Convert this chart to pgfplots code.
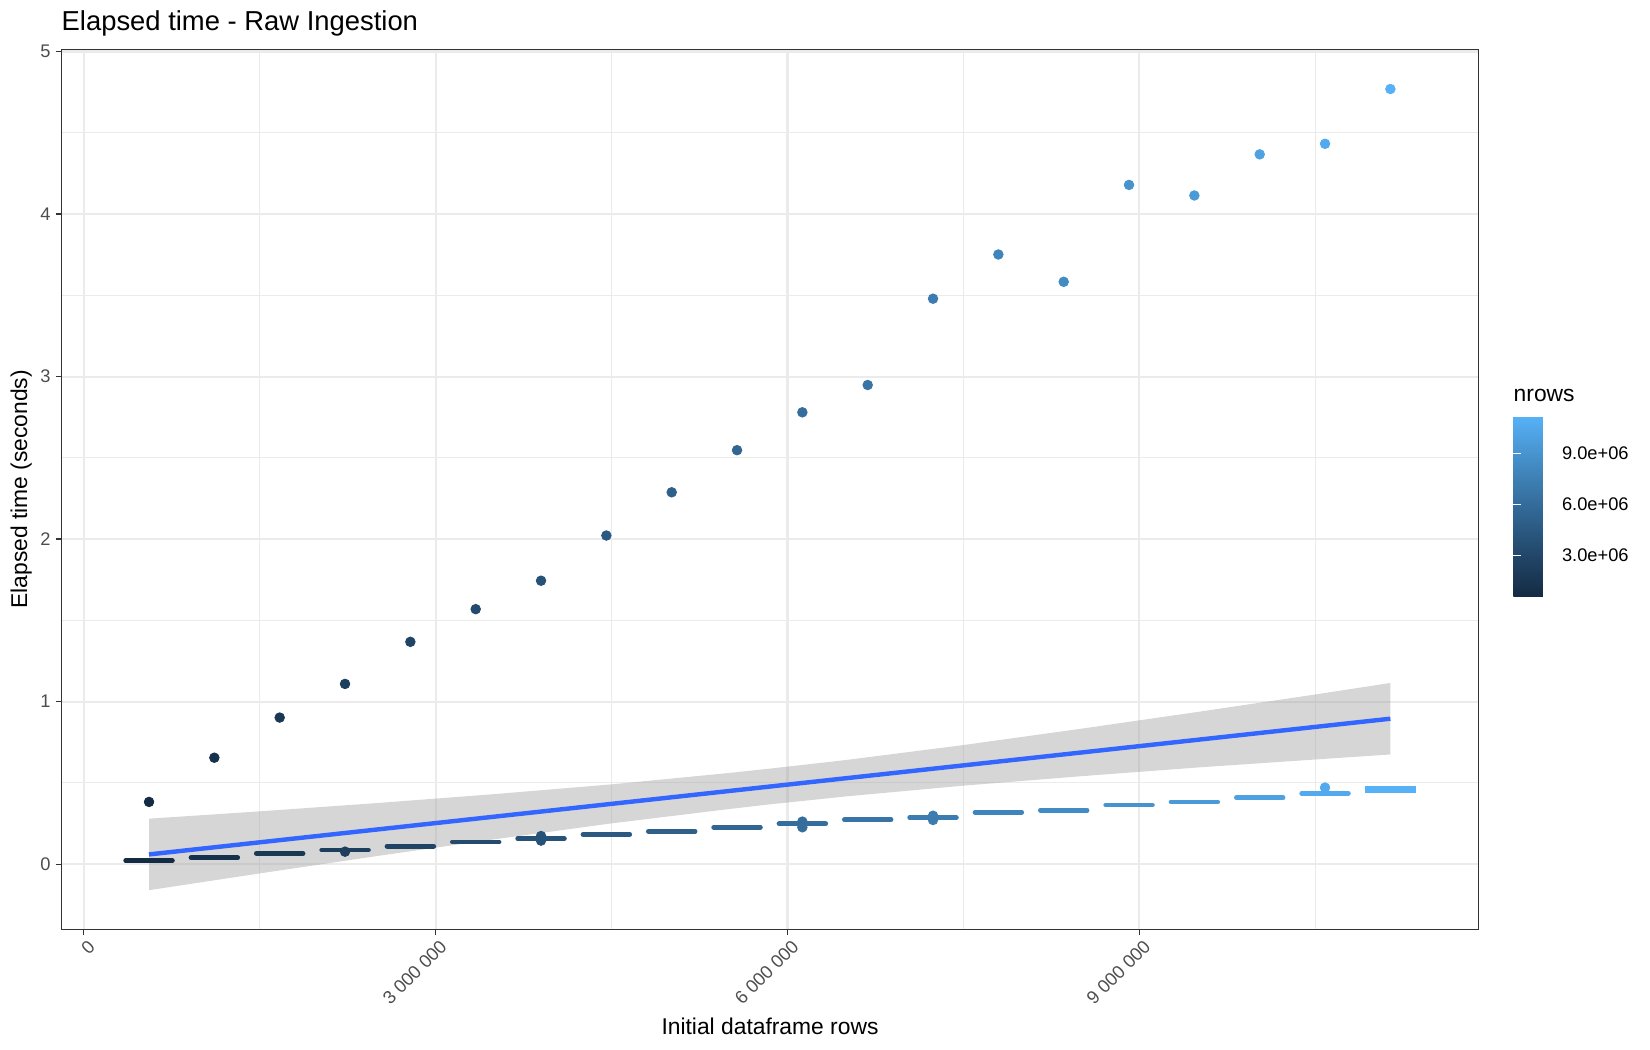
\documentclass[border=0pt]{standalone}
\usepackage{fontspec}
\setmainfont{Liberation Sans}
\usepackage{pgfplots}
\usepackage{pgfplotstable}
\pgfplotsset{compat=1.18}
\definecolor{grey92}{HTML}{EBEBEB}
\definecolor{grey20}{HTML}{333333}
\definecolor{grey30}{HTML}{4D4D4D}
\definecolor{smoothblue}{HTML}{3366FF}
\definecolor{bandgrey}{HTML}{999999}
\pgfplotsset{
  colormap={ggblue}{rgb255(0cm)=(19,43,67); rgb255(1cm)=(35,73,108); rgb255(2cm)=(51,106,152); rgb255(3cm)=(68,141,198); rgb255(4cm)=(86,177,247)}
}
\pgfplotstableread{
x y
557000 0.383
1114000 0.655
1671000 0.902
2228000 1.109
2785000 1.368
3342000 1.569
3899000 1.744
4456000 2.022
5013000 2.288
5570000 2.547
6127000 2.780
6684000 2.948
7241000 3.479
7798000 3.751
8355000 3.583
8912000 4.179
9469000 4.114
10026000 4.367
10583000 4.432
11140000 4.769
}\toppts
\pgfplotstableread{
x y
557000 0.021
1114000 0.040
1671000 0.066
2228000 0.087
2785000 0.111
3342000 0.137
3899000 0.157
4456000 0.183
5013000 0.202
5570000 0.228
6127000 0.249
6684000 0.273
7241000 0.286
7798000 0.319
8355000 0.332
8912000 0.364
9469000 0.383
10026000 0.409
10583000 0.436
}\dashes
\pgfplotstableread{
x y
11140000 0.457
}\lastdash
\pgfplotstableread{
x y
2228000 0.077
3899000 0.173
3899000 0.145
6127000 0.262
6127000 0.227
7241000 0.298
7241000 0.272
10583000 0.471
}\lowpts
\begin{document}
\begin{tikzpicture}
\path[use as bounding box] (-29.42bp,-57.94bp) rectangle (762.58bp,446.06bp);
\begin{axis}[
  at={(0,0)}, anchor=south west,
  scale only axis, width=680.35bp, height=422.4bp,
  xmin=-0.191e6, xmax=11.893e6, ymin=-0.4006, ymax=5.0135,
  colormap name=ggblue,
  point meta min=557000, point meta max=11140000,
  xtick={0,3e6,6e6,9e6}, xticklabels={0,3 000 000,6 000 000,9 000 000},
  minor xtick={1.5e6,4.5e6,7.5e6,10.5e6},
  ytick={0,1,2,3,4,5}, yticklabels={0,1,2,3,4,5},
  minor ytick={0.5,1.5,2.5,3.5,4.5},
  scaled x ticks=false,
  grid=both,
  major grid style={color=grey92, line width=1pt},
  minor grid style={color=grey92, line width=0.5pt},
  tick align=outside, tick pos=left,
  major tick length=2.75pt, minor tick length=0pt,
  tick style={color=grey20, line width=0.6pt},
  axis line style={color=grey20, line width=0.6pt},
  xticklabel style={rotate=45, anchor=north east, inner sep=0pt, yshift=-2.2pt,
    font=\fontsize{8.8}{10}\selectfont, text=grey30},
  yticklabel style={anchor=east, inner sep=0pt, xshift=-2.2pt,
    font=\fontsize{8.8}{10}\selectfont, text=grey30},
  xlabel={Initial dataframe rows},
  xlabel style={at={(axis description cs:0.5,-0.12003)}, anchor=base, inner sep=0pt,
    font=\fontsize{11}{13}\selectfont},
  ylabel={Elapsed time (seconds)},
  ylabel style={at={(axis description cs:-0.02822,0.5)}, anchor=center, rotate=0, inner sep=0pt,
    font=\fontsize{11}{13}\selectfont},
  title={Elapsed time - Raw Ingestion},
  title style={at={(axis description cs:0,1)}, anchor=base west, yshift=2.82bp, inner sep=0pt,
    font=\fontsize{13.2}{15}\selectfont},
  colorbar,
  colorbar style={
    at={(parent axis.south west)}, anchor=south west,
    xshift=688.46bp, yshift=159.65bp,
    scale only axis, width=17.6bp, height=86.4bp,
    axis on top,
    axis line style={draw=none},
    scaled y ticks=false,
    ytick={3e6,6e6,9e6}, yticklabels={3.0e+06,6.0e+06,9.0e+06},
    minor ytick={}, grid=none,
    yticklabel pos=right, ytick pos=both,
    tick align=inside, major tick length=3.5bp,
    tick style={color=white, line width=0.5bp},
    extra y ticks={3e6,6e6,9e6}, extra y tick labels={},
    extra y tick style={ytick pos=left, yticklabel pos=left, tick align=inside,
      major tick length=3.5bp, tick style={color=white, line width=0.5bp}},
    yticklabel style={anchor=west, inner sep=0pt, xshift=5.6bp,
      font=\fontsize{8.8}{10}\selectfont, text=black},
    title={nrows},
    title style={at={(axis description cs:0,1)}, anchor=base west, yshift=1.22bp, inner sep=0pt,
      font=\fontsize{11}{13}\selectfont},
  },
]
% upper series points
\addplot[scatter, only marks, mark=*, mark size=2.3bp, point meta=x,
  scatter/use mapped color={draw=mapped color, fill=mapped color}]
  table {\toppts};
% lower series points
\addplot[scatter, only marks, mark=*, mark size=2.3bp, point meta=x,
  scatter/use mapped color={draw=mapped color, fill=mapped color}]
  table {\lowpts};
% dashes
\addplot[scatter, only marks, mark=-, mark size=11.2bp, point meta=x,
  mark options={line width=2.3bp, line cap=round},
  scatter/use mapped color={draw=mapped color, fill=mapped color}]
  table {\dashes};
\addplot[scatter, only marks, mark=-, mark size=12.2bp, point meta=x,
  mark options={line width=3.4bp, line cap=butt},
  scatter/use mapped color={draw=mapped color, fill=mapped color}]
  table {\lastdash};
% confidence band
\addplot[draw=none, fill=bandgrey, fill opacity=0.4] coordinates {
  (557000,0.280) (1500000,0.325) (2500000,0.376) (3500000,0.431) (4500000,0.491)
  (5500000,0.561) (5850000,0.588) (6500000,0.641) (7500000,0.733) (8500000,0.833)
  (9500000,0.937) (10500000,1.044) (11140000,1.115)
  (11140000,0.675) (10500000,0.644) (9500000,0.595) (8500000,0.541) (7500000,0.483)
  (6500000,0.417) (5850000,0.368) (5500000,0.339) (4500000,0.251) (3500000,0.153)
  (2500000,0.050) (1500000,-0.057) (557000,-0.160)
} -- cycle;
% fitted line
\addplot[color=smoothblue, line width=2.13pt, no marks] coordinates {
  (557000,0.060) (11140000,0.895)
};
\end{axis}
\end{tikzpicture}
\end{document}
